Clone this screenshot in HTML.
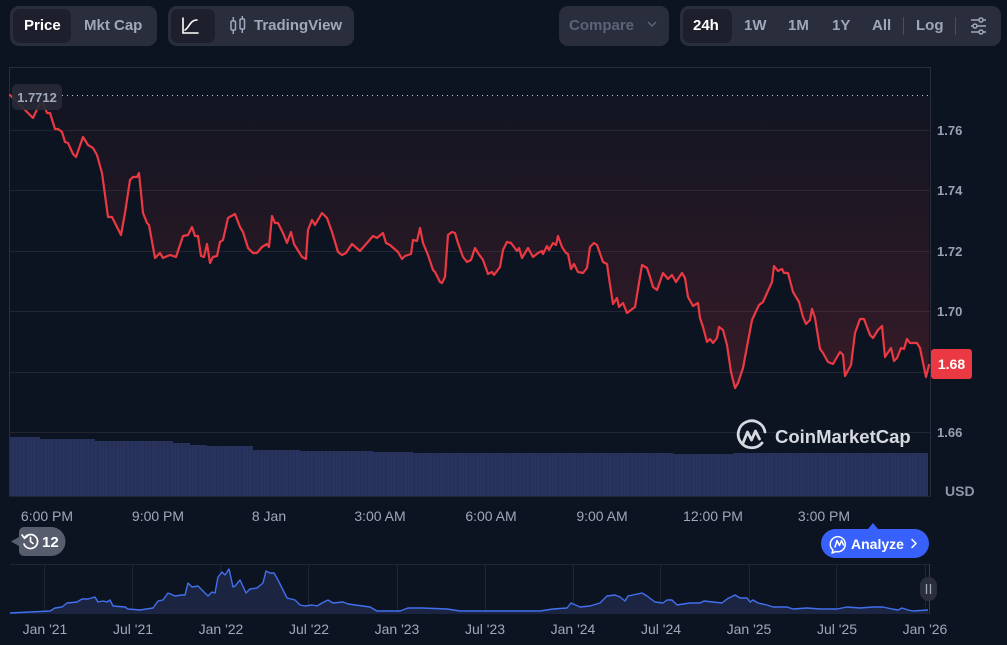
<!DOCTYPE html>
<html><head><meta charset="utf-8"><style>
*{box-sizing:border-box;margin:0;padding:0}
body{width:1007px;height:645px;background:#0d1421;overflow:hidden;position:relative;font-family:"Liberation Sans",Arial,sans-serif}
.g{position:absolute;top:6px;height:40px;background:#2a2d3b;border-radius:9px}
.act{position:absolute;top:9px;height:34px;background:#1d202c;border-radius:7px}
.t{position:absolute;top:17px;font-size:15px;font-weight:bold;color:#a1a7bb;line-height:18px;white-space:nowrap}
.w{color:#fff}
.sep{position:absolute;top:17px;width:1px;height:18px;background:#4a4e5e}
svg{position:absolute;left:0;top:0}
</style></head><body>
<div class="g" style="left:10px;width:147px"></div>
<div class="act" style="left:13px;width:58px"></div>
<div class="t w" style="left:24px">Price</div>
<div class="t" style="left:84px">Mkt Cap</div>

<div class="g" style="left:168px;width:186px"></div>
<div class="act" style="left:171px;width:44px"></div>
<div class="t" style="left:254px">TradingView</div>

<div class="g" style="left:559px;width:110px"></div>
<div class="t" style="left:569px;color:#5b6378">Compare</div>

<div class="g" style="left:680px;width:321px"></div>
<div class="act" style="left:683px;width:49px"></div>
<div class="t w" style="left:693px">24h</div>
<div class="t" style="left:744px">1W</div>
<div class="t" style="left:788px">1M</div>
<div class="t" style="left:832px">1Y</div>
<div class="t" style="left:872px">All</div>
<div class="sep" style="left:903px"></div>
<div class="t" style="left:916px">Log</div>
<div class="sep" style="left:955px"></div>

<svg width="1007" height="645" viewBox="0 0 1007 645" xmlns="http://www.w3.org/2000/svg" font-family="Liberation Sans, Arial, sans-serif">
<defs>
<linearGradient id="rg" gradientUnits="userSpaceOnUse" x1="0" y1="95" x2="0" y2="392">
<stop offset="0" stop-color="#ea3943" stop-opacity="0.02"/>
<stop offset="1" stop-color="#ea3943" stop-opacity="0.19"/>
</linearGradient>
<pattern id="vb" patternUnits="userSpaceOnUse" width="3.6" height="10">
<rect width="3.6" height="10" fill="#29345e"/>
<rect width="0.8" height="10" fill="#232c50"/>
</pattern>
</defs>

<g stroke="#fff" stroke-width="1.6" fill="none" stroke-linecap="round">
<path d="M183 18 V33 H198"/>
<path d="M185 30 C189 28 190 20 197 20"/>
</g>
<g stroke="#a1a7bb" stroke-width="1.5" fill="none">
<rect x="231" y="21" width="4.5" height="9" rx="1"/>
<line x1="233.3" y1="17" x2="233.3" y2="21"/><line x1="233.3" y1="30" x2="233.3" y2="34"/>
<rect x="240" y="19" width="4.5" height="10" rx="1"/>
<line x1="242.3" y1="16" x2="242.3" y2="19"/><line x1="242.3" y1="29" x2="242.3" y2="33"/>
</g>
<path d="M648 22 L652 26 L656 22" stroke="#5b6378" stroke-width="1.5" fill="none"/>
<g stroke="#a1a7bb" stroke-width="1.5" fill="none">
<line x1="971" y1="20" x2="986" y2="20"/><line x1="971" y1="26" x2="986" y2="26"/><line x1="971" y1="32" x2="986" y2="32"/>
<circle cx="981" cy="20" r="2" fill="#2a2d3b"/><circle cx="975" cy="26" r="2" fill="#2a2d3b"/><circle cx="981" cy="32" r="2" fill="#2a2d3b"/>
</g>

<g stroke="#222531" stroke-width="1">
<line x1="10" y1="130.5" x2="930" y2="130.5"/>
<line x1="10" y1="190.5" x2="930" y2="190.5"/>
<line x1="10" y1="251.5" x2="930" y2="251.5"/>
<line x1="10" y1="311.5" x2="930" y2="311.5"/>
<line x1="10" y1="372.5" x2="930" y2="372.5"/>
<line x1="10" y1="432.5" x2="930" y2="432.5"/>
</g>
<path d="M9.5 496 V67.5 H930.5 V496" stroke="#2a2e3c" stroke-width="1" fill="none"/>

<polygon fill="url(#vb)" points="10,496 10,437 40,437 40,439 95,439 95,441 173,441 173,443 190,443 190,445 207,445 207,446 253,446 253,450 300,450 300,451 373,451 373,452 413,452 413,453 673,453 673,454 733,454 733,453 928,453 928,496"/>
<line x1="9" y1="496.5" x2="931" y2="496.5" stroke="#222531"/>

<polygon fill="url(#rg)" points="929,95 10,95 10,95 33,118 39,105 43,103 47,113 50,113 55,129 58,129 62,132 65,142 68,143 73,154 76,157 83,137 88,145 93,148 97,155 102,173 108,217 112,217 121,235 125,213 130,180 133,177 137,177 139,173 143,213 147,223 149,225 155,258 160,253 163,258 170,255 176,257 183,236 188,235 192,227 195,236 198,236 201,256 204,257 207,244 210,263 213,257 217,256 220,242 223,240 228,218 235,214 240,227 243,232 248,248 253,253 257,253 262,247 267,244 269,247 272,216 275,223 278,223 283,233 287,243 291,232 294,244 302,257 306,259 308,230 312,220 315,225 322,213 327,218 332,232 338,252 342,255 346,253 352,244 360,251 367,243 373,236 377,238 383,233 386,243 390,245 398,252 402,259 405,256 411,254 413,240 417,241 420,228 423,243 428,255 433,270 435,272 440,282 442,283 445,277 448,235 452,232 455,233 458,243 463,257 467,262 471,260 475,248 478,253 483,260 488,274 492,272 494,275 500,267 503,250 507,242 511,243 517,251 519,248 522,258 528,248 533,257 538,253 542,251 543,254 547,246 549,250 553,243 556,245 558,236 562,247 566,253 568,254 571,269 574,264 578,272 583,273 587,268 590,247 594,243 597,245 603,262 607,264 609,278 613,304 617,298 619,307 623,303 627,313 635,307 642,265 647,268 650,277 653,287 657,290 663,273 668,279 672,275 676,282 682,273 685,278 688,297 693,306 698,303 700,318 703,327 707,342 710,339 713,343 717,338 719,327 723,330 727,345 731,372 735,388 738,383 743,368 752,320 759,305 763,302 767,293 772,282 774,266 778,271 782,269 784,273 788,273 793,292 799,302 803,317 806,324 810,320 812,309 815,318 820,349 823,353 828,362 833,364 840,352 843,355 845,376 851,365 855,333 860,319 864,319 870,335 873,338 878,330 882,326 885,357 891,348 894,361 897,358 901,348 904,349 907,339 910,343 917,343 920,348 926,377 929,365"/>

<line x1="62" y1="95.5" x2="928" y2="95.5" stroke="#c3c7d2" stroke-width="1" stroke-dasharray="1 4"/>

<polyline fill="none" stroke="#ea3943" stroke-width="2.2" stroke-linejoin="round" stroke-linecap="round" points="10,95 33,118 39,105 43,103 47,113 50,113 55,129 58,129 62,132 65,142 68,143 73,154 76,157 83,137 88,145 93,148 97,155 102,173 108,217 112,217 121,235 125,213 130,180 133,177 137,177 139,173 143,213 147,223 149,225 155,258 160,253 163,258 170,255 176,257 183,236 188,235 192,227 195,236 198,236 201,256 204,257 207,244 210,263 213,257 217,256 220,242 223,240 228,218 235,214 240,227 243,232 248,248 253,253 257,253 262,247 267,244 269,247 272,216 275,223 278,223 283,233 287,243 291,232 294,244 302,257 306,259 308,230 312,220 315,225 322,213 327,218 332,232 338,252 342,255 346,253 352,244 360,251 367,243 373,236 377,238 383,233 386,243 390,245 398,252 402,259 405,256 411,254 413,240 417,241 420,228 423,243 428,255 433,270 435,272 440,282 442,283 445,277 448,235 452,232 455,233 458,243 463,257 467,262 471,260 475,248 478,253 483,260 488,274 492,272 494,275 500,267 503,250 507,242 511,243 517,251 519,248 522,258 528,248 533,257 538,253 542,251 543,254 547,246 549,250 553,243 556,245 558,236 562,247 566,253 568,254 571,269 574,264 578,272 583,273 587,268 590,247 594,243 597,245 603,262 607,264 609,278 613,304 617,298 619,307 623,303 627,313 635,307 642,265 647,268 650,277 653,287 657,290 663,273 668,279 672,275 676,282 682,273 685,278 688,297 693,306 698,303 700,318 703,327 707,342 710,339 713,343 717,338 719,327 723,330 727,345 731,372 735,388 738,383 743,368 752,320 759,305 763,302 767,293 772,282 774,266 778,271 782,269 784,273 788,273 793,292 799,302 803,317 806,324 810,320 812,309 815,318 820,349 823,353 828,362 833,364 840,352 843,355 845,376 851,365 855,333 860,319 864,319 870,335 873,338 878,330 882,326 885,357 891,348 894,361 897,358 901,348 904,349 907,339 910,343 917,343 920,348 926,377 929,365"/>

<rect x="12" y="84" width="50" height="26" rx="5" fill="#272a36" fill-opacity="0.92"/>
<text x="37" y="102" font-size="13" fill="#a1a7bb" text-anchor="middle" font-weight="bold">1.7712</text>

<g font-size="13" fill="#9aa1b5" font-weight="bold">
<text x="937" y="135">1.76</text>
<text x="937" y="195">1.74</text>
<text x="937" y="256">1.72</text>
<text x="937" y="316">1.70</text>
<text x="937" y="437">1.66</text>
</g>
<rect x="931" y="349" width="41" height="30" rx="3" fill="#ea3943"/>
<text x="951.5" y="369" font-size="14" font-weight="bold" fill="#fff" text-anchor="middle">1.68</text>
<text x="945" y="496" font-size="14" font-weight="bold" fill="#8f96aa">USD</text>

<g stroke="#d6d9e0" stroke-width="2.8" fill="none" stroke-linecap="round" stroke-linejoin="round">
<path d="M762 443 A13.5 13.5 0 1 1 765 432"/>
<path d="M743 443 L747.5 432 L751.5 440 L755.5 431 L759.5 439"/>
</g>
<text x="775" y="443" font-size="18.5" font-weight="bold" fill="#d6d9e0">CoinMarketCap</text>

<g font-size="14" fill="#a1a7bb" text-anchor="middle">
<text x="47" y="521">6:00 PM</text>
<text x="158" y="521">9:00 PM</text>
<text x="269" y="521">8 Jan</text>
<text x="380" y="521">3:00 AM</text>
<text x="491" y="521">6:00 AM</text>
<text x="602" y="521">9:00 AM</text>
<text x="713" y="521">12:00 PM</text>
<text x="824" y="521">3:00 PM</text>
</g>

<path d="M24 527 H51 A14 14 0 0 1 51 556 H24 A5 5 0 0 1 19 551 V546 L11 541.5 L19 537 V532 A5 5 0 0 1 24 527 Z" fill="#585d6d"/>
<g stroke="#fff" stroke-width="1.7" fill="none" stroke-linecap="round">
<path d="M24.5 538 A7 7 0 1 1 24 544"/>
<path d="M22 535 L24.5 538.2 L27.5 536"/>
<path d="M30.5 537.5 V541.5 L33 543.5"/>
</g>
<text x="42" y="547" font-size="15" font-weight="bold" fill="#fff">12</text>

<path d="M868 529 L873 523 L878 529 Z" fill="#3861fb"/>
<rect x="821" y="529" width="108" height="29" rx="14.5" fill="#3861fb"/>
<g stroke="#fff" stroke-width="1.5" fill="none" stroke-linecap="round" stroke-linejoin="round">
<path d="M833 550 L832 553 L836 551.5 A7.5 7.5 0 1 0 833 550 Z"/>
<path d="M835 547 L837 540.5 L839.5 545.5 L841.5 540.5 L843.5 545"/>
<path d="M912 539.5 L916 543.5 L912 547.5"/>
</g>
<text x="851" y="549" font-size="14" font-weight="bold" fill="#fff">Analyze</text>

<line x1="10" y1="564.5" x2="930" y2="564.5" stroke="#222531"/>
<g stroke="#222531" stroke-width="1">
<line x1="44.5" y1="564" x2="44.5" y2="614"/>
<line x1="132.5" y1="564" x2="132.5" y2="614"/>
<line x1="220.5" y1="564" x2="220.5" y2="614"/>
<line x1="308.5" y1="564" x2="308.5" y2="614"/>
<line x1="397.5" y1="564" x2="397.5" y2="614"/>
<line x1="485.5" y1="564" x2="485.5" y2="614"/>
<line x1="573.5" y1="564" x2="573.5" y2="614"/>
<line x1="660.5" y1="564" x2="660.5" y2="614"/>
<line x1="749.5" y1="564" x2="749.5" y2="614"/>
<line x1="836.5" y1="564" x2="836.5" y2="614"/>
<line x1="925.5" y1="564" x2="925.5" y2="614"/>
</g>
<polygon fill="#1b2440" points="10,614 10,613 50,611 55,608 62,607 67,603 77,602 82,599 88,599 95,597 98,602 103,601 107,602 110,600 113,606 125,607 128,609 140,610 153,608 158,601 163,600 168,593 175,596 182,595 185,595 188,583 192,587 198,586 202,590 208,596 212,592 215,593 218,577 222,572 225,575 229,569 233,587 235,586 240,580 246,593 250,589 257,588 263,583 266,571 270,573 274,573 278,580 287,598 295,600 300,605 305,606 312,605 317,606 322,603 328,600 333,603 343,602 348,604 370,607 377,611 390,611 400,611 408,608 422,608 447,609 460,611 480,611 500,611 540,611 553,609 567,608 571,603 580,607 590,606 600,603 607,596 615,595 620,597 625,601 628,596 633,595 642,593 647,596 655,602 663,603 667,600 672,600 677,605 683,604 690,603 700,603 704,601 713,602 722,603 727,599 735,595 740,598 747,598 750,602 753,600 758,603 767,605 773,607 787,607 793,609 807,608 820,609 837,609 847,607 860,608 873,607 883,607 892,609 898,610 902,608 908,610 913,611 928,610 928,614"/>
<polyline fill="none" stroke="#4170f0" stroke-width="1.4" stroke-linejoin="round" points="10,613 50,611 55,608 62,607 67,603 77,602 82,599 88,599 95,597 98,602 103,601 107,602 110,600 113,606 125,607 128,609 140,610 153,608 158,601 163,600 168,593 175,596 182,595 185,595 188,583 192,587 198,586 202,590 208,596 212,592 215,593 218,577 222,572 225,575 229,569 233,587 235,586 240,580 246,593 250,589 257,588 263,583 266,571 270,573 274,573 278,580 287,598 295,600 300,605 305,606 312,605 317,606 322,603 328,600 333,603 343,602 348,604 370,607 377,611 390,611 400,611 408,608 422,608 447,609 460,611 480,611 500,611 540,611 553,609 567,608 571,603 580,607 590,606 600,603 607,596 615,595 620,597 625,601 628,596 633,595 642,593 647,596 655,602 663,603 667,600 672,600 677,605 683,604 690,603 700,603 704,601 713,602 722,603 727,599 735,595 740,598 747,598 750,602 753,600 758,603 767,605 773,607 787,607 793,609 807,608 820,609 837,609 847,607 860,608 873,607 883,607 892,609 898,610 902,608 908,610 913,611 928,610"/>
<line x1="929.5" y1="564" x2="929.5" y2="614" stroke="#3a3e4c"/>
<rect x="920" y="577" width="17" height="24" rx="8.5" fill="#2b2e3b"/>
<g stroke="#a1a7bb" stroke-width="1.3"><line x1="926.5" y1="584" x2="926.5" y2="594"/><line x1="930.5" y1="584" x2="930.5" y2="594"/></g>
<g font-size="14" fill="#a1a7bb" text-anchor="middle">
<text x="45" y="634">Jan '21</text>
<text x="133" y="634">Jul '21</text>
<text x="221" y="634">Jan '22</text>
<text x="309" y="634">Jul '22</text>
<text x="397" y="634">Jan '23</text>
<text x="485" y="634">Jul '23</text>
<text x="573" y="634">Jan '24</text>
<text x="661" y="634">Jul '24</text>
<text x="749" y="634">Jan '25</text>
<text x="837" y="634">Jul '25</text>
<text x="925" y="634">Jan '26</text>
</g>
</svg>
</body></html>
